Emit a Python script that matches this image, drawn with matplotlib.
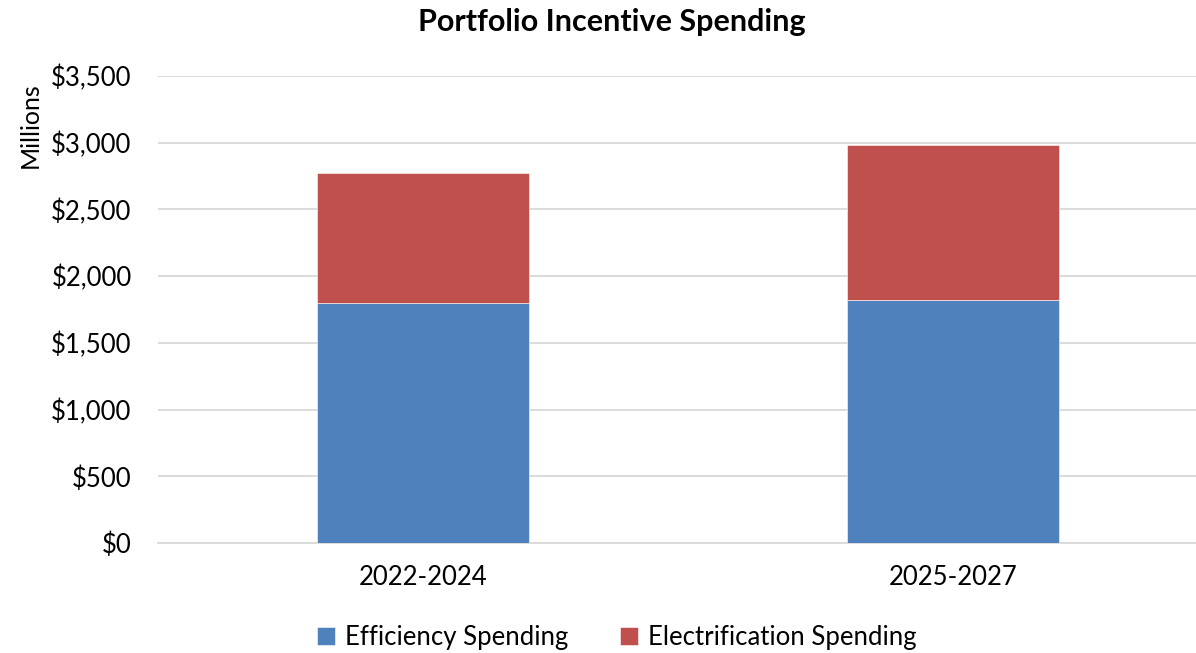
import matplotlib.pyplot as plt
from matplotlib.ticker import FuncFormatter

plt.rcParams['font.family'] = ['Lato', 'DejaVu Sans']

periods = ['2022-2024', '2025-2027']
efficiency = [1795, 1820]
electrification = [975, 1163]
series_names = ['Efficiency Spending', 'Electrification Spending']
colors = ['#4F81BD', '#C0504D']

fig = plt.figure(figsize=(11.96, 6.53), dpi=100)
ax = fig.add_axes([158 / 1196, 1 - 543 / 653, 1038 / 1196, 467 / 653])

x = range(len(periods))
ax.bar(x, efficiency, width=0.4, color=colors[0], label=series_names[0],
       edgecolor='white', linewidth=0.4, zorder=3)
ax.bar(x, electrification, width=0.4, bottom=efficiency, color=colors[1],
       label=series_names[1], edgecolor='white', linewidth=0.4, zorder=3)

ax.set_xlim(-0.5, 1.5 - 22 / 530)
ax.set_ylim(0, 3500)
ax.set_yticks(range(0, 3501, 500))
ax.yaxis.set_major_formatter(FuncFormatter(lambda v, p: f'${v:,.0f}'))
ax.set_xticks(list(x))
ax.set_xticklabels(periods)
ax.tick_params(length=0, labelsize=18.5, colors='black')
ax.tick_params(axis='y', pad=19)
ax.tick_params(axis='x', pad=16)
ax.grid(axis='y', color='#d9d9d9', linewidth=1.3, zorder=0)
for s in ['top', 'right', 'left']:
    ax.spines[s].set_visible(False)
ax.spines['bottom'].set_color('#d9d9d9')
ax.spines['bottom'].set_linewidth(1.3)

fig.text(30 / 1196, 1 - 125 / 653, 'Millions', rotation=90, ha='center',
         va='center', fontsize=18)
fig.text(612 / 1196, 1 - 22 / 653, 'Portfolio Incentive Spending',
         ha='center', va='center', fontsize=22, fontweight='bold')

fig.legend(loc='center', bbox_to_anchor=(617 / 1196, 1 - 637 / 653), ncol=2,
           frameon=False, fontsize=18.5, handlelength=0.7, handleheight=0.7,
           handletextpad=0.4, columnspacing=2.0)

fig.savefig('out.png', dpi=100)
